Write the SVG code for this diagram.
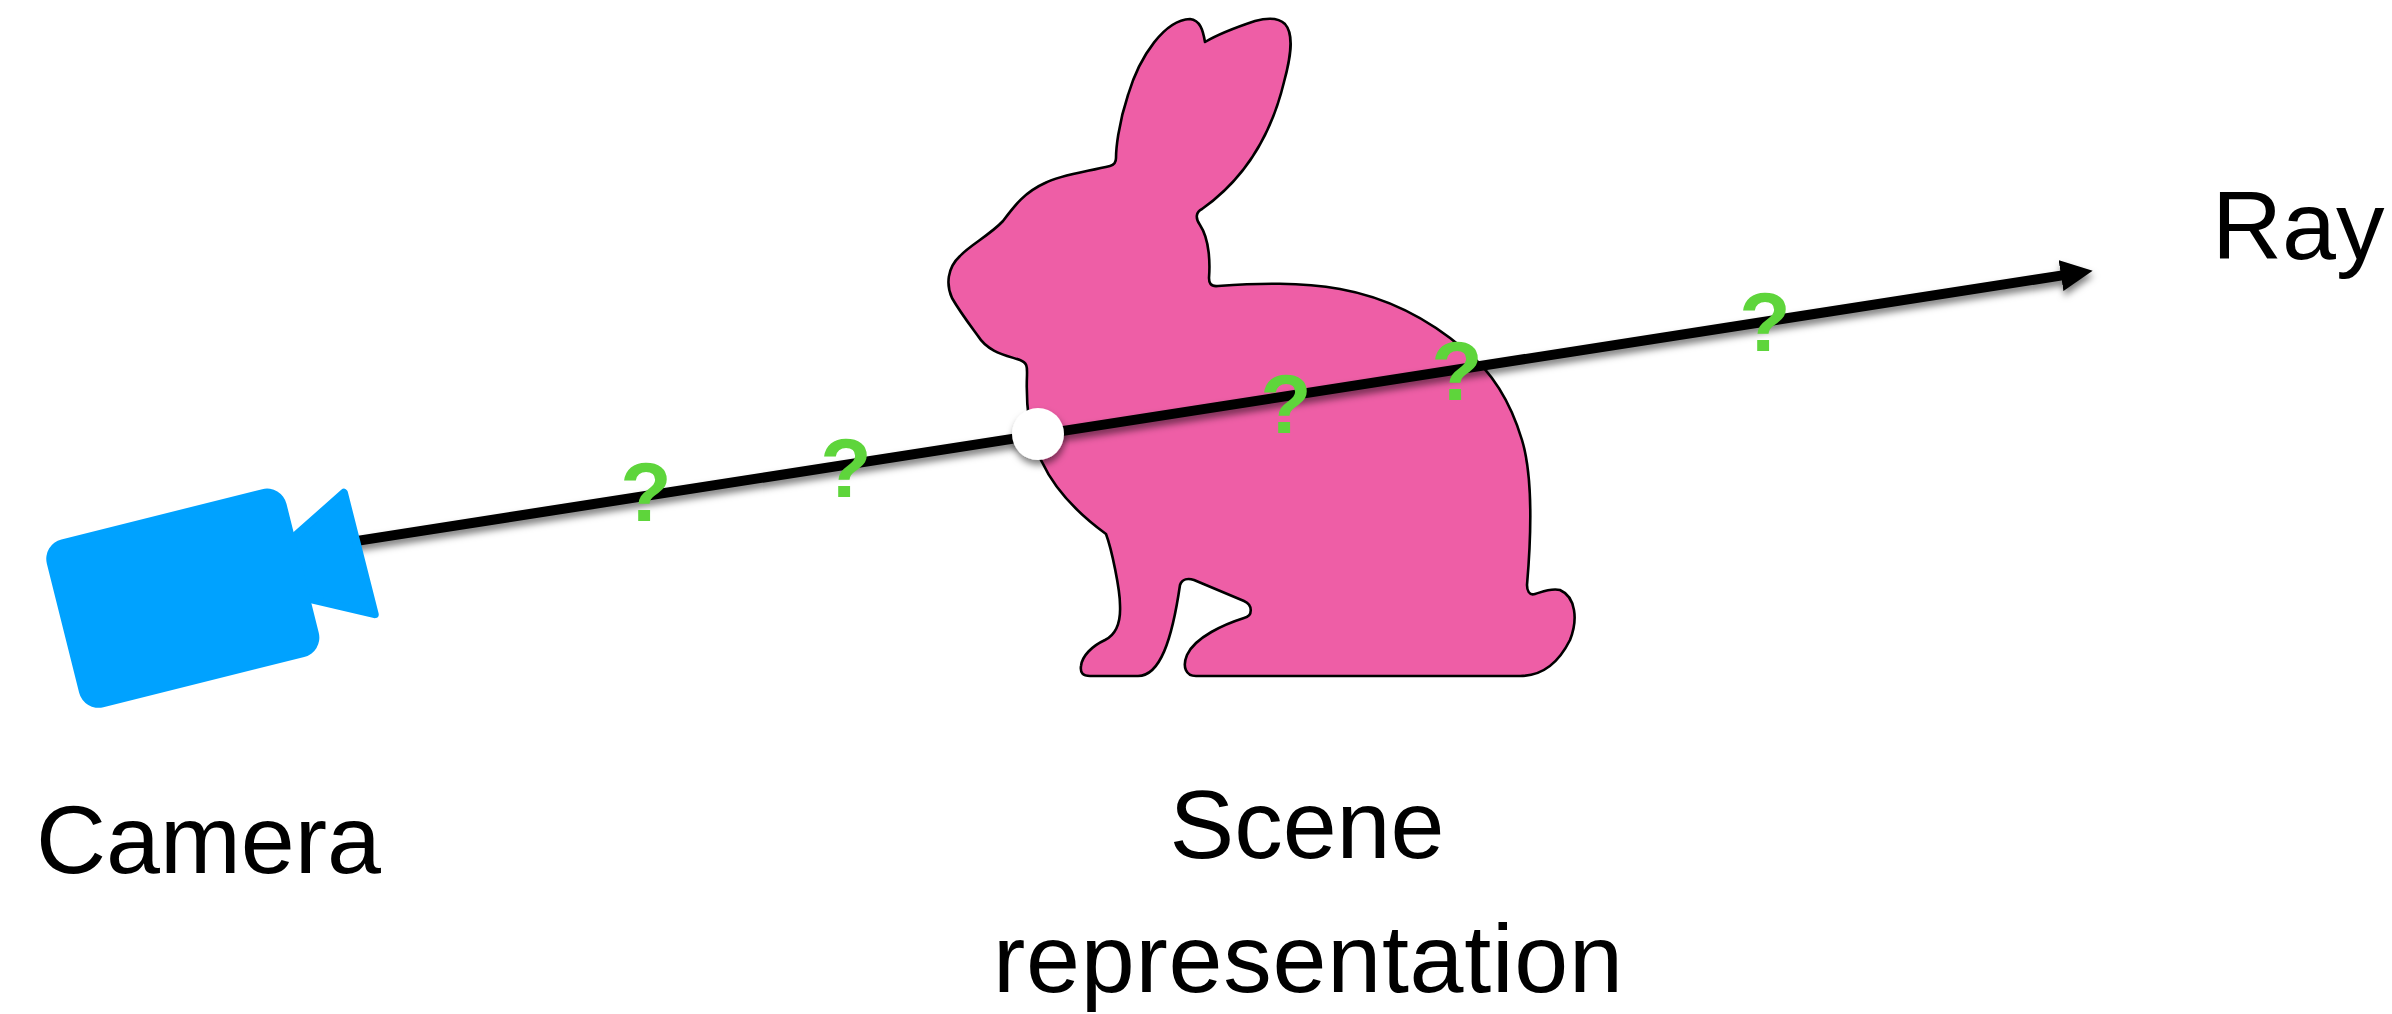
<svg xmlns="http://www.w3.org/2000/svg" width="2392" height="1014" viewBox="0 0 2392 1014">
  <style>
    .label { font-family: "Liberation Sans", Arial, sans-serif; font-size: 97px; fill: #000; }
    .unknown { font-family: "Liberation Sans", Arial, sans-serif; font-weight: bold; font-size: 84px; fill: #5ED53B; text-anchor: middle; }
    .bunny { fill: #EE5EA6; stroke: #000; stroke-width: 2.6; stroke-linejoin: round; }
    .cam { fill: #00A2FF; }
  </style>
  <defs>
    <filter id="softShadow" x="-10%" y="-50%" width="120%" height="200%">
      <feDropShadow dx="1" dy="5" stdDeviation="3.5" flood-color="#000" flood-opacity="0.5"/>
    </filter>
    <marker id="arrowHead" markerUnits="userSpaceOnUse" viewBox="0 0 32 31" refX="3" refY="15.5" markerWidth="32" markerHeight="31" orient="auto">
      <path d="M0 0 L32 15.5 L0 31 Z" fill="#000"/>
    </marker>
  </defs>
  <rect width="2392" height="1014" fill="#fff"/>

  <!-- scene: bunny silhouette -->
  <g id="scene">
    <path class="bunny" d="M 1205 42
      C 1203 30, 1200 20, 1190 19
      C 1165 20, 1140 55, 1128 95
      C 1118 125, 1116 150, 1116 158
      C 1116 163, 1114 165, 1110 166
      C 1085 172, 1060 175, 1045 183
      C 1025 192, 1015 205, 1003 221
      C 990 235, 970 245, 960 256
      C 947 268, 946 285, 952 298
      C 960 312, 970 325, 978 336
      C 988 352, 1005 355, 1020 360
      C 1028 363, 1027 368, 1027 375
      C 1026 400, 1028 440, 1042 462
      C 1055 490, 1080 515, 1106 534
      C 1112 550, 1120 590, 1120 605
      C 1121 625, 1115 635, 1105 640
      C 1092 646, 1082 656, 1081 666
      C 1080 673, 1083 676, 1090 676
      L 1138 676
      C 1160 676, 1172 640, 1180 585
      C 1182 579, 1188 578, 1194 580
      L 1244 601
      C 1253 605, 1253 616, 1244 618
      C 1225 624, 1195 637, 1187 655
      C 1182 667, 1186 676, 1196 676
      L 1520 676
      C 1545 676, 1560 660, 1570 640
      C 1578 620, 1576 597, 1560 590
      C 1550 588, 1542 592, 1535 594
      C 1529 596, 1527 590, 1527 585
      C 1530 550, 1534 480, 1522 440
      C 1510 400, 1490 370, 1465 350
      C 1430 320, 1390 298, 1340 289
      C 1300 282, 1260 283, 1218 286
      C 1210 287, 1209 282, 1209 278
      C 1210 265, 1210 240, 1200 225
      C 1195 218, 1196 212, 1202 209
      C 1240 182, 1270 140, 1284 82
      C 1290 60, 1295 35, 1285 24
      C 1278 17, 1266 18, 1255 21
      C 1240 26, 1220 33, 1205 42 Z"/>
  </g>

  <!-- connectors: the ray -->
  <g id="connectors" filter="url(#softShadow)">
    <path id="ray" d="M 330 545.1 L 2064 275.1" stroke="#000" stroke-width="10" fill="none" marker-end="url(#arrowHead)"/>
  </g>

  <!-- first surface hit -->
  <g id="hit-point" filter="url(#softShadow)">
    <circle cx="1038" cy="434" r="26" fill="#fff"/>
  </g>

  <!-- camera icon -->
  <g id="camera">
    <polygon class="cam" points="343.9,492.8 374.7,614.2 242,583" stroke="#00A2FF" stroke-width="8" stroke-linejoin="round"/>
    <rect class="cam" x="0" y="0" width="247" height="173" rx="20" ry="20" transform="translate(42 544.3) rotate(-14.05)"/>
  </g>

  <!-- unknown samples along the ray -->
  <g id="samples">
    <text class="unknown" x="646" y="521">?</text>
    <text class="unknown" x="846" y="497">?</text>
    <text class="unknown" x="1286" y="433">?</text>
    <text class="unknown" x="1457" y="400">?</text>
    <text class="unknown" x="1765" y="351">?</text>
  </g>

  <!-- labels -->
  <g id="label-camera"><text class="label" x="36" y="873">Camera</text></g>
  <g id="label-scene">
    <text class="label" x="1307" y="858" text-anchor="middle">Scene</text>
    <text class="label" x="1308" y="992" text-anchor="middle" textLength="630" lengthAdjust="spacing">representation</text>
  </g>
  <g id="label-ray"><text class="label" x="2212" y="259">Ray</text></g>
</svg>
